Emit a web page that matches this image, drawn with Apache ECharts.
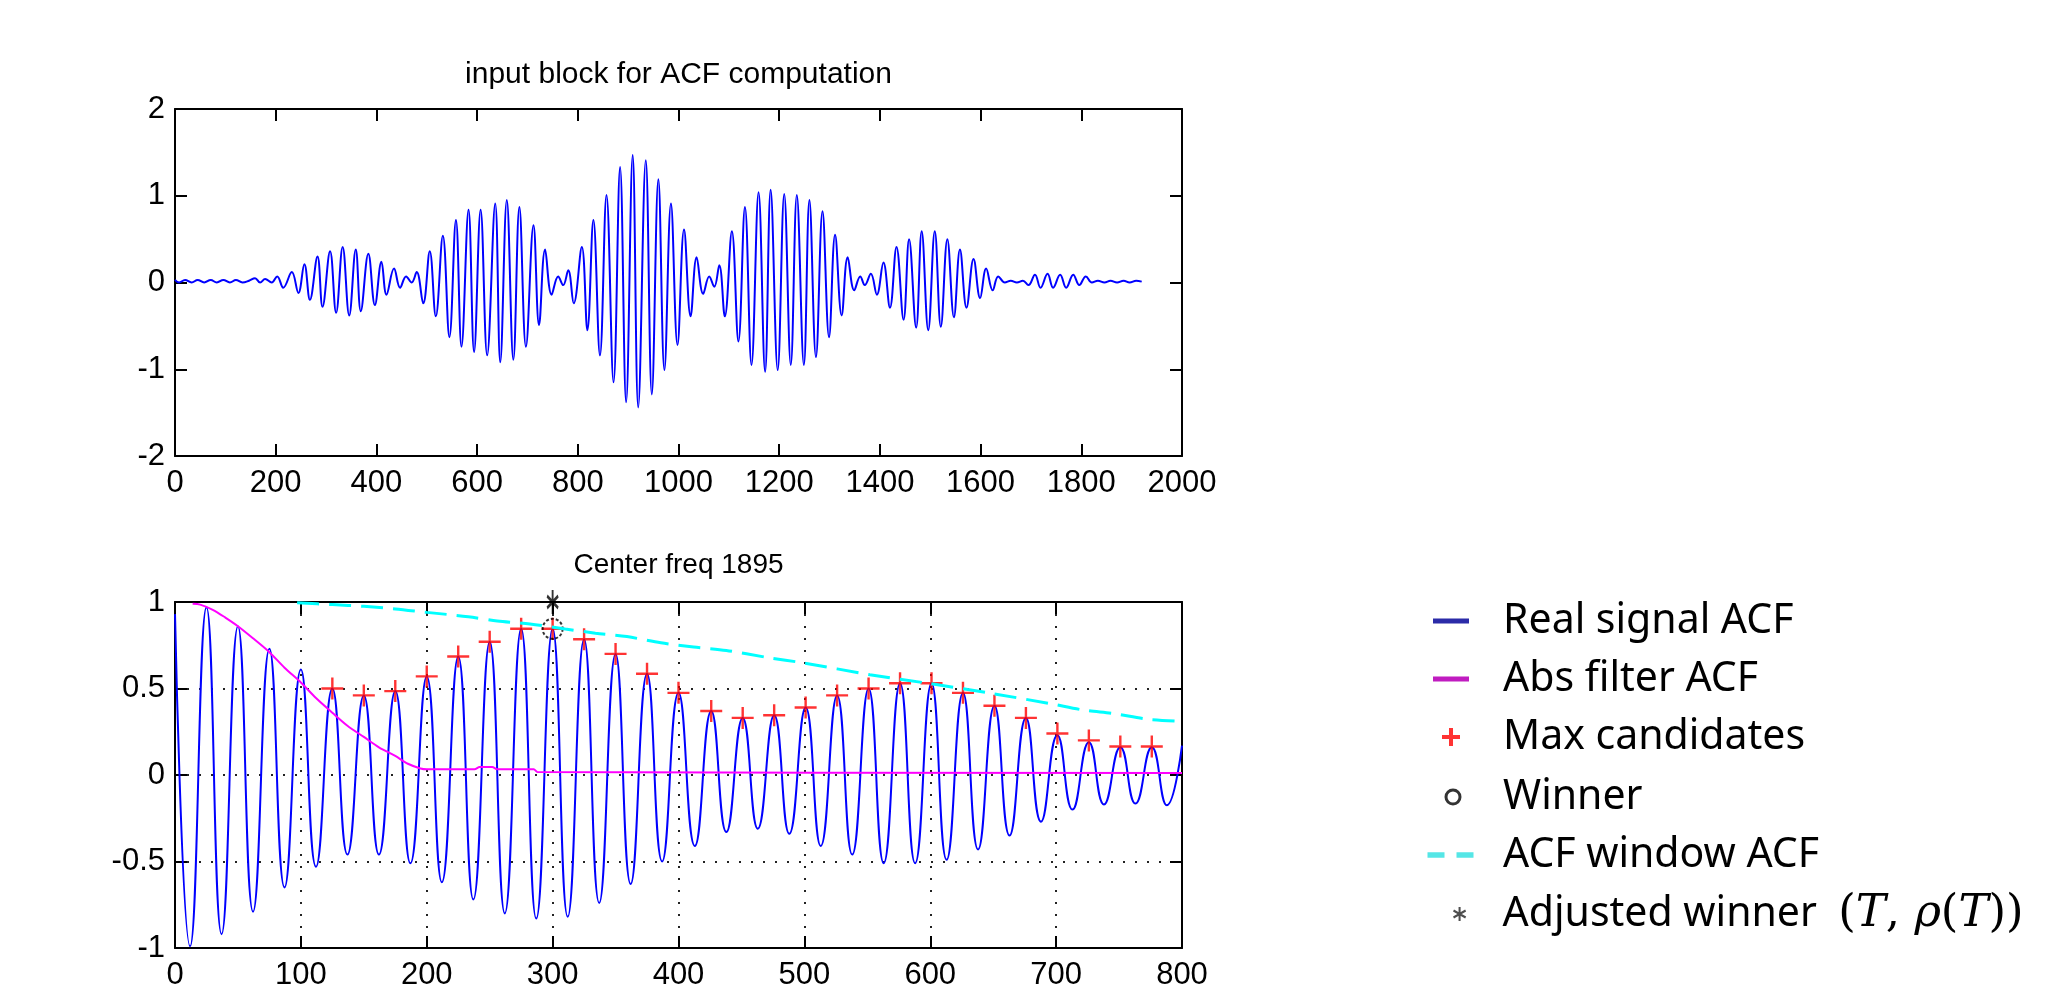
<!DOCTYPE html>
<html>
<head>
<meta charset="utf-8">
<script src="https://cdn.jsdelivr.net/npm/echarts@6/dist/echarts.min.js"></script>
<style>html,body{margin:0;padding:0;background:#fff;}</style>
</head>
<body>
<div id="main" style="width:2062px;height:1000px;"></div>
<script>
// axis ranges: [min, max, interval]
var topXRange = [0, 2000, 200];
var topYRange = [-2, 2, 1];
var botXRange = [0, 800, 100];
var botYRange = [-1, 1, 0.5];

// input block, peaks and troughs
var inputBlock = [[0,0.03],[8,0.0],[20,0.03],[33,0.0],[45,0.03],[58,0.0],[71,0.03],[83,0.0],[96,0.03],[109,0.0],
  [121,0.03],[134,0.0],[147,0.02],[159,0.05],[169,0.0],[179,0.04],[192,0.0],[203,0.07],[215,-0.06],[232,0.12],
  [245,-0.12],[257,0.21],[268,-0.2],[283,0.3],[293,-0.28],[308,0.36],[320,-0.35],[333,0.41],[346,-0.38],[359,0.38],
  [369,-0.33],[384,0.33],[397,-0.26],[410,0.24],[420,-0.14],[435,0.16],[447,-0.06],[459,0.07],[470,0.0],[480,0.12],
  [493,-0.24],[506,0.36],[518,-0.39],[532,0.54],[545,-0.63],[558,0.72],[569,-0.74],[583,0.84],[594,-0.8],[607,0.84],
  [620,-0.84],[636,0.91],[646,-0.92],[659,0.95],[672,-0.89],[684,0.87],[697,-0.74],[712,0.66],[723,-0.49],[735,0.38],
  [748,-0.14],[761,0.07],[771,-0.03],[781,0.14],[792,-0.24],[808,0.41],[819,-0.55],[831,0.72],[844,-0.84],[857,1.01],
  [871,-1.15],[884,1.33],[896,-1.38],[909,1.47],[920,-1.44],[935,1.41],[947,-1.29],[960,1.19],[972,-1.01],[985,0.91],
  [998,-0.72],[1011,0.61],[1024,-0.39],[1036,0.29],[1049,-0.13],[1061,0.07],[1071,-0.05],[1081,0.2],[1092,-0.39],[1106,0.59],
  [1119,-0.68],[1132,0.87],[1145,-0.95],[1159,1.04],[1172,-1.03],[1183,1.07],[1197,-1.01],[1210,1.02],[1223,-0.95],[1235,1.01],
  [1249,-0.95],[1260,0.95],[1273,-0.86],[1286,0.82],[1299,-0.63],[1311,0.55],[1324,-0.38],[1336,0.29],[1349,-0.09],[1361,0.07],
  [1370,-0.03],[1382,0.1],[1394,-0.14],[1407,0.23],[1420,-0.29],[1433,0.41],[1447,-0.43],[1458,0.5],[1472,-0.52],[1483,0.59],
  [1496,-0.55],[1509,0.59],[1521,-0.51],[1534,0.5],[1547,-0.4],[1559,0.38],[1572,-0.29],[1586,0.27],[1599,-0.18],[1611,0.16],
  [1624,-0.09],[1635,0.07],[1648,0.0],[1660,0.02],[1672,0.0],[1684,0.02],[1695,-0.03],[1708,0.09],[1719,-0.06],[1733,0.1],
  [1744,-0.06],[1758,0.09],[1770,-0.06],[1784,0.09],[1796,-0.03],[1809,0.07],[1821,0.0],[1833,0.02],[1846,0.0],[1858,0.02],
  [1871,0.0],[1884,0.02],[1896,0.0],[1909,0.02],[1920,0.01]];

// real signal ACF, peaks and troughs
var realAcf = [[0,0.93],[12,-0.99],[25,0.97],[37,-0.92],[50,0.86],[62,-0.79],[75,0.73],[87,-0.65],[100,0.61],[112,-0.53],
  [125,0.50],[137,-0.46],[150,0.46],[162,-0.46],[175,0.485],[187,-0.51],[200,0.57],[212,-0.62],[225,0.685],[237,-0.72],
  [250,0.77],[262,-0.80],[275,0.845],[287,-0.83],[300,0.845],[312,-0.82],[325,0.785],[337,-0.74],[350,0.70],[362,-0.63],
  [375,0.585],[387,-0.50],[400,0.475],[413,-0.41],[426,0.37],[438,-0.33],[451,0.33],[463,-0.31],[476,0.345],[488,-0.34],
  [501,0.39],[513,-0.41],[526,0.46],[538,-0.46],[551,0.50],[563,-0.51],[576,0.53],[588,-0.51],[601,0.53],[613,-0.49],
  [626,0.475],[638,-0.43],[651,0.40],[663,-0.35],[676,0.33],[688,-0.27],[701,0.23],[713,-0.20],[726,0.19],[738,-0.17],
  [751,0.16],[763,-0.165],[776,0.16],[788,-0.175],[800,0.17]];

var absAcf = [[14,0.99],[20,0.985],[30,0.955],[40,0.91],[50,0.86],[62,0.79],[75,0.71],[87,0.62],[100,0.535],[112,0.445],
  [125,0.36],[137,0.285],[150,0.22],[162,0.16],[175,0.11],[185,0.065],[195,0.038],[200,0.033],[238,0.033],[242,0.046],
  [252,0.046],[256,0.033],[285,0.033],[288,0.018],[800,0.012]];

var windowAcf = [[97,0.995],[125,0.985],[150,0.975],[175,0.96],[200,0.94],[233,0.915],[256,0.89],[282,0.873],[310,0.844],
  [334,0.82],[359,0.80],[386,0.764],[412,0.74],[438,0.72],[470,0.68],[500,0.647],[552,0.58],[600,0.528],[650,0.47],
  [695,0.413],[722,0.375],[746,0.355],[772,0.323],[800,0.31]];

var candidates = [[125,0.50],[150,0.46],[175,0.485],[200,0.57],[225,0.685],[250,0.77],[275,0.845],[300,0.845],[325,0.785],
  [350,0.70],[375,0.585],[400,0.475],[426,0.37],[451,0.33],[476,0.345],[501,0.39],[526,0.46],[551,0.50],[576,0.53],
  [601,0.53],[626,0.475],[651,0.40],[676,0.33],[701,0.24],[726,0.20],[751,0.165],[776,0.165]];
var winner = [[300,0.845]];
var adjustedWinner = [[300,1.0]];

var titles = ['input block for ACF computation', 'Center freq 1895'];
var names = ['Real signal ACF', 'Abs filter ACF', 'Max candidates', 'Winner', 'ACF window ACF', 'Adjusted winner'];

var tickFamily = "'Liberation Sans', Arial, sans-serif";
var plusPath = 'path://M9.8,0H12.2V22H9.8ZM0,9.8H22V12.2H0Z';
var starPath = 'path://M6.4,15L8.6,15L8.6,0L6.4,0Z' +
  'M13.45,12.2L14.55,10.3L1.55,2.8L0.45,4.7Z' +
  'M14.55,4.7L13.45,2.8L0.45,10.3L1.55,12.2Z';

function plainNumber(v) { return String(v); }

function xAxisOf(grid, r, pos, dotted) {
  return {
    type: 'value', gridIndex: grid, position: pos, min: r[0], max: r[1], interval: r[2],
    axisLine: { show: true, onZero: false, lineStyle: { color: '#000', width: 2 } },
    axisTick: { show: true, inside: true, length: 12, lineStyle: { color: '#000', width: 2 } },
    axisLabel: pos === 'bottom'
      ? { show: true, margin: 12, fontSize: 31, fontFamily: tickFamily, color: '#000',
          showMinLabel: true, showMaxLabel: true, formatter: plainNumber }
      : { show: false },
    splitLine: { show: !!dotted, lineStyle: { color: '#222', width: 2, type: [2, 10] } }
  };
}
function yAxisOf(grid, r, pos, dotted) {
  return {
    type: 'value', gridIndex: grid, position: pos, min: r[0], max: r[1], interval: r[2],
    axisLine: { show: true, onZero: false, lineStyle: { color: '#000', width: 2 } },
    axisTick: { show: true, inside: true, length: 12, lineStyle: { color: '#000', width: 2 } },
    axisLabel: pos === 'left'
      ? { show: true, margin: 10, fontSize: 31, fontFamily: tickFamily, color: '#000',
          showMinLabel: true, showMaxLabel: true, formatter: plainNumber }
      : { show: false },
    splitLine: { show: !!dotted, lineStyle: { color: '#222', width: 2, type: [2, 10] } }
  };
}

// one legend per row so each icon gets its own size; left = left edge of the icon
function legendRow(name, left, top, w, h, icon, color, extra) {
  var l = {
    show: true, left: left, top: top, padding: 0, itemWidth: w, itemHeight: h,
    selectedMode: false, orient: 'vertical',
    data: [{ name: name, icon: icon, itemStyle: { color: color, borderWidth: 0 } }],
    textStyle: { fontFamily: "'Noto Sans', 'Open Sans', sans-serif", fontSize: 41, color: '#000', lineHeight: 50 }
  };
  for (var k in extra) l[k] = extra[k];
  return l;
}

var myChart = echarts.init(document.getElementById('main'));
var option = {
  animation: false,
  backgroundColor: '#fff',
  title: [
    { text: titles[0], left: 678.5, top: 60, textAlign: 'center', padding: 0,
      textStyle: { fontFamily: tickFamily, fontSize: 30, fontWeight: 'normal', color: '#000' } },
    { text: titles[1], left: 678.5, top: 551, textAlign: 'center', padding: 0,
      textStyle: { fontFamily: tickFamily, fontSize: 28, fontWeight: 'normal', color: '#000' } }
  ],
  grid: [
    { left: 175, top: 109, width: 1007, height: 347, outerBoundsMode: 'none' },
    { left: 175, top: 602, width: 1007, height: 346, outerBoundsMode: 'none' }
  ],
  xAxis: [xAxisOf(0, topXRange, 'bottom'), xAxisOf(0, topXRange, 'top'),
          xAxisOf(1, botXRange, 'bottom', true), xAxisOf(1, botXRange, 'top')],
  yAxis: [yAxisOf(0, topYRange, 'left'), yAxisOf(0, topYRange, 'right'),
          yAxisOf(1, botYRange, 'left', true), yAxisOf(1, botYRange, 'right')],
  legend: [
    legendRow(names[0], 1433, 596, 94, 5, 'path://M0,0H36V5H0Z', '#2b2ba8'),
    legendRow(names[1], 1433, 654, 94, 5, 'path://M0,0H36V5H0Z', '#c01cc0'),
    legendRow(names[2], 1442, 712, 94, 18, 'path://M7,0H11V18H7ZM0,7H18V11H0Z', '#ff0000'),
    legendRow(names[3], 1444.5, 772, 90, 17,
      'path://M0,8.5A8.5,8.5,0,1,1,17,8.5A8.5,8.5,0,1,1,0,8.5ZM3,8.5A5.5,5.5,0,1,0,14,8.5A5.5,5.5,0,1,0,3,8.5Z', '#000'),
    legendRow(names[4], 1427.5, 830, 95, 5.5, 'path://M0,0H17V5.5H0ZM29,0H46V5.5H29Z', '#55e6e6'),
    legendRow(names[5], 1453, 889, 76, 14, starPath, '#222', {
      formatter: function () {
        return '{a|Adjusted winner}  {m|(}{i|T}{m|, }{i|\u03c1}{m|(}{i|T}{m|))}';
      },
      textStyle: {
        fontFamily: "'Noto Sans', sans-serif", fontSize: 41, color: '#000', lineHeight: 50,
        rich: {
          a: { fontFamily: "'Noto Sans', sans-serif", fontSize: 41, lineHeight: 50, color: '#000' },
          m: { fontFamily: "'DejaVu Serif', serif", fontSize: 45, lineHeight: 50, color: '#000' },
          i: { fontFamily: "'DejaVu Serif', serif", fontStyle: 'italic', fontSize: 45, lineHeight: 50, color: '#000' }
        }
      }
    })
  ],
  series: [
    { name: 'input block', type: 'line', xAxisIndex: 0, yAxisIndex: 0, data: inputBlock,
      showSymbol: false, symbol: 'none', smooth: 0.4, lineStyle: { color: '#0000ff', width: 2 }, z: 2 },
    { name: names[0], type: 'line', xAxisIndex: 2, yAxisIndex: 2, data: realAcf,
      symbol: 'none', smooth: 0.5, color: '#0000ff', lineStyle: { color: '#0000ff', width: 2 }, z: 2 },
    { name: names[1], type: 'line', xAxisIndex: 2, yAxisIndex: 2, data: absAcf,
      symbol: 'none', smooth: 0.3, color: '#ff00ff', lineStyle: { color: '#ff00ff', width: 2 }, z: 3 },
    { name: names[2], type: 'scatter', xAxisIndex: 2, yAxisIndex: 2, data: candidates,
      symbol: plusPath, symbolSize: 22, itemStyle: { color: '#ff0000' }, clip: false, z: 4 },
    { name: names[3], type: 'scatter', xAxisIndex: 2, yAxisIndex: 2, data: winner,
      symbol: 'circle', symbolSize: 20, clip: false, z: 5,
      itemStyle: { color: 'rgba(0,0,0,0)', borderColor: '#000', borderWidth: 2, borderType: [3, 2] } },
    { name: names[4], type: 'line', xAxisIndex: 2, yAxisIndex: 2, data: windowAcf,
      symbol: 'none', smooth: 0.3, color: '#00ffff', lineStyle: { color: '#00ffff', width: 3, type: [22, 10] }, z: 6 },
    { name: names[5], type: 'scatter', xAxisIndex: 2, yAxisIndex: 2, data: adjustedWinner,
      symbol: starPath, symbolSize: [12, 24], itemStyle: { color: '#000' }, clip: false, z: 7 }
  ]
};
myChart.setOption(option);
</script>
</body>
</html>
